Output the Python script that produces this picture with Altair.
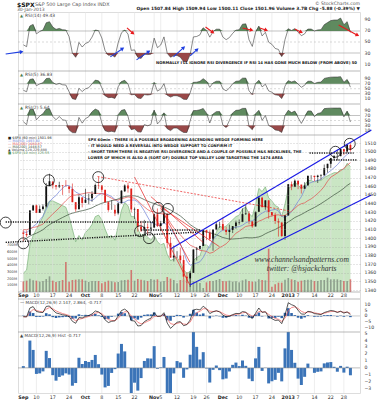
import math
import altair as alt
import pandas as pd
import numpy as np

# ---------------- data ----------------
# closes before the visible window (used only to warm up the indicators)
warmup_close = [1335.0, 1313.7, 1320.0, 1331.9, 1329.0, 1362.2,
                1365.5, 1374.0, 1367.6, 1354.7, 1352.5, 1341.5, 1341.5, 1334.8, 1356.8, 1353.6,
                1363.7, 1372.8, 1376.5, 1362.7, 1350.5, 1338.3, 1337.9, 1360.0, 1386.0, 1385.3, 1379.3,
                1375.1, 1365.0, 1391.0, 1394.2, 1401.4, 1402.2, 1402.8, 1405.9, 1404.1, 1403.9, 1405.5,
                1415.5, 1418.2, 1418.1, 1413.2, 1413.5, 1402.1, 1411.1, 1410.4, 1409.3, 1410.5, 1399.5, 1406.6]

open_ = [1406.5, 1404.9, 1403.7, 1432.1, 1437.9, 1429.1, 1433.6, 1436.6, 1460.1, 1465.4, 1461.2, 1459.5, 1461.0, 1460.3, 1459.8, 1456.9, 1441.6, 1433.4, 1447.1,
         1440.9, 1445.0, 1446.1, 1451.1, 1461.4, 1460.9, 1455.9, 1441.5, 1432.8, 1432.8, 1428.8, 1440.3, 1454.2, 1460.9, 1457.3, 1433.2, 1433.7, 1413.2, 1409.7, 1413.0, 1411.0,
         1412.2, 1427.6, 1414.0, 1417.3, 1428.3, 1394.5, 1377.6, 1380.0, 1380.0, 1374.6, 1355.4, 1353.4, 1359.9, 1386.8, 1387.8, 1391.0, 1409.2, 1406.3, 1398.8, 1410.0, 1416.0,
         1416.3, 1409.5, 1407.1, 1409.4, 1414.0, 1418.1, 1418.6, 1427.8, 1428.5, 1419.5, 1413.5, 1430.5, 1446.8, 1435.8, 1443.7, 1430.2, 1426.7, 1419.8, 1418.1, 1402.4,
         1426.2, 1462.4, 1459.4, 1466.5, 1461.9, 1457.2, 1461.0, 1472.1, 1472.1, 1470.7, 1472.3, 1472.6, 1481.0, 1486.0, 1492.6, 1494.8, 1494.8, 1503.0, 1500.2, 1507.8]
high_ = [1409.3, 1408.8, 1432.1, 1437.9, 1438.7, 1437.8, 1439.2, 1463.8, 1474.5, 1465.6, 1461.5, 1465.2, 1461.2, 1467.1, 1460.7, 1463.2, 1441.6, 1450.2, 1447.1,
         1457.1, 1451.5, 1454.3, 1463.1, 1471.0, 1460.9, 1455.9, 1442.5, 1443.9, 1438.4, 1441.3, 1455.5, 1462.2, 1464.0, 1457.3, 1435.5, 1433.7, 1420.0, 1421.1, 1417.1, 1418.8,
         1428.4, 1434.3, 1419.9, 1433.4, 1428.3, 1401.2, 1391.4, 1384.9, 1388.8, 1380.1, 1360.6, 1362.0, 1386.9, 1389.8, 1391.3, 1409.2, 1409.2, 1409.0, 1410.0, 1419.7, 1418.9,
         1423.7, 1413.1, 1415.6, 1414.0, 1420.3, 1421.6, 1434.3, 1438.6, 1431.4, 1419.5, 1430.7, 1448.0, 1447.8, 1443.7, 1443.7, 1430.2, 1429.4, 1422.8, 1418.1, 1426.7,
         1462.4, 1465.5, 1467.9, 1466.5, 1461.9, 1464.7, 1472.3, 1472.8, 1472.1, 1473.3, 1474.0, 1485.2, 1486.0, 1492.6, 1496.1, 1502.3, 1503.3, 1503.2, 1509.4, 1509.9]
low_ = [1396.6, 1401.3, 1403.7, 1431.4, 1429.0, 1429.1, 1432.0, 1435.3, 1460.1, 1457.5, 1456.1, 1457.9, 1450.0, 1459.5, 1452.1, 1441.6, 1430.5, 1433.4, 1435.6,
        1440.9, 1439.0, 1442.0, 1451.1, 1456.9, 1453.1, 1441.2, 1430.6, 1432.8, 1425.5, 1427.2, 1440.3, 1453.3, 1452.6, 1429.8, 1422.1, 1407.6, 1407.1, 1405.1, 1403.3, 1406.0,
        1412.2, 1412.9, 1408.1, 1417.3, 1388.1, 1377.5, 1373.0, 1377.2, 1370.9, 1352.5, 1348.1, 1343.4, 1359.9, 1374.2, 1386.4, 1391.0, 1397.7, 1397.0, 1385.4, 1409.0, 1411.6,
        1408.5, 1403.7, 1398.2, 1405.9, 1410.9, 1415.6, 1418.6, 1426.8, 1416.0, 1411.9, 1413.5, 1430.5, 1435.8, 1432.8, 1422.6, 1424.7, 1416.4, 1401.8, 1401.6, 1398.1,
        1426.2, 1455.5, 1459.0, 1456.6, 1451.6, 1457.2, 1461.0, 1467.6, 1465.7, 1463.8, 1467.6, 1472.6, 1475.8, 1481.2, 1489.9, 1489.9, 1494.8, 1496.3, 1498.5, 1500.1]
close_ = [1404.9, 1403.4, 1432.1, 1437.9, 1429.1, 1433.6, 1436.6, 1460.0, 1465.8, 1461.2, 1459.3, 1461.1, 1460.3, 1460.2, 1456.9, 1441.6, 1433.3, 1447.2, 1440.7,
          1444.5, 1445.8, 1451.0, 1461.4, 1460.9, 1455.9, 1441.5, 1432.6, 1432.8, 1428.6, 1440.1, 1454.9, 1460.9, 1457.3, 1433.2, 1433.8, 1413.1, 1408.8, 1413.0, 1411.9, 1412.2,
          1427.6, 1414.2, 1417.3, 1428.4, 1394.5, 1377.5, 1380.0, 1380.0, 1374.5, 1355.5, 1353.3, 1359.9, 1386.9, 1387.8, 1391.0, 1409.2, 1406.3, 1398.9, 1409.9, 1416.0, 1416.2,
          1409.5, 1407.1, 1409.3, 1413.9, 1418.1, 1418.6, 1427.8, 1428.5, 1419.5, 1413.6, 1430.4, 1446.8, 1435.8, 1443.7, 1430.2, 1426.7, 1419.8, 1418.1, 1402.4, 1426.2,
          1462.4, 1459.4, 1466.5, 1461.9, 1457.2, 1461.0, 1472.1, 1472.1, 1470.7, 1472.3, 1472.6, 1480.9, 1486.0, 1492.6, 1494.8, 1494.8, 1503.0, 1500.2, 1507.8, 1502.0]
# bar heights (millions)
volume_m = [160, 170, 200, 175, 170, 155, 165, 195, 235, 170, 150, 165, 180, 450, 155, 180, 185, 190, 190,
            170, 150, 165, 165, 165, 130, 150, 170, 160, 145, 150, 175, 180, 185, 330, 170, 195, 185, 175, 165, 195,
            185, 190, 155, 165, 225, 200, 180, 130, 180, 190, 200, 205, 160, 160, 135, 60, 145, 165, 165, 180, 195,
            165, 160, 170, 155, 160, 145, 175, 190, 165, 155, 155, 190, 180, 175, 650, 80, 115, 140, 140, 185,
            210, 190, 180, 155, 170, 180, 185, 185, 165, 165, 180, 180, 215, 190, 190, 190, 180, 165, 165, 190]
breadth = [12, 14, 30, 36, 40, 44, 48, 55, 58, 58, 57, 56, 55, 54, 48, 40, 32, 36, 33,
           38, 40, 43, 48, 49, 46, 40, 35, 36, 33, 42, 52, 57, 55, 48, 48, 40, 36, 37, 35, 33,
           36, 32, 30, 31, 24, 20, 21, 22, 19, 14, 12, 13, 20, 22, 23, 30, 30, 28, 33, 38, 42,
           41, 42, 44, 46, 48, 49, 53, 54, 50, 48, 56, 66, 64, 67, 60, 58, 55, 54, 48, 56,
           66, 67, 70, 68, 66, 68, 71, 71, 70, 71, 71, 73, 74, 75, 76, 76, 78, 78, 82, 80]
vol_ticks = [100, 200, 300, 400, 500, 600, 700]

week_idx = [0, 4, 9, 14, 19, 24, 29, 34, 40, 42, 47, 52, 56, 61, 66, 71, 76, 81, 84, 89, 94, 98]
week_lbl = ['Sep', '10', '17', '24', 'Oct', '8', '15', '22', 'Nov', '5', '12', '19', '26', 'Dec', '10', '17', '24', '2013', '7', '14', '22', '28']
week_bold = [1, 0, 0, 0, 1, 0, 0, 0, 1, 0, 0, 0, 0, 1, 0, 0, 0, 1, 0, 0, 0, 0]

# analyst drawings in data coordinates (trading-day index, price)
seg_kind = ['blue', 'blue', 'reddash', 'red', 'red', 'red', 'red', 'dot', 'dot', 'dot', 'dot', 'dot']
seg_i1 = [45.0, 50.9, 22.7, 34.0, 42.0, 42.0, 39.0, -5.4, -5.4, 36.0, 87.5, 93.4]
seg_p1 = [1387.4, 1345.8, 1471.3, 1470.7, 1434.9, 1436.0, 1448.0, 1395.1, 1418.7, 1409.4, 1498.5, 1490.4]
seg_i2 = [106.4, 106.4, 81.4, 50.9, 50.9, 60.0, 55.0, 53.9, 40.0, 54.0, 101.0, 102.0]
seg_p2 = [1525.1, 1449.9, 1431.4, 1345.8, 1372.4, 1390.0, 1395.0, 1407.1, 1418.7, 1409.4, 1498.5, 1490.4]

circ_i = [-5.4, 0.0, 7.8, 22.9, 41.2, 44.2, 35.7, 38.4, 95.4, 99.8]
circ_p = [1418.0, 1394.0, 1467.0, 1470.6, 1435.0, 1433.8, 1408.0, 1400.0, 1499.9, 1509.1]

arr_kind = ['red', 'red', 'red', 'red', 'red', 'red', 'blue', 'blue', 'blue', 'blue', 'blue']
arr_i1 = [31.7, 55.7, 67.0, 72.3, 83.0, 96.4, -5.4, 26.6, 34.6, 45.9, 51.0]
arr_v1 = [75.5, 77.3, 75.5, 75.5, 73.7, 80.9, 28.3, 22.9, 17.5, 22.9, 24.7]
arr_i2 = [33.4, 57.8, 69.6, 74.1, 84.8, 102.0, -0.7, 30.2, 38.2, 48.9, 53.0]
arr_v2 = [66.4, 68.2, 71.9, 71.9, 68.2, 62.8, 32.0, 37.4, 32.0, 39.2, 35.6]

note_lines = ["SPX 60min - THERE IS A POSSIBLE BROADENING ASCENDING WEDGE FORMING HERE",
              "- IT WOULD NEED A REVERSAL INTO WEDGE SUPPORT TO CONFIRM IT",
              "- SHORT TERM THERE IS NEGATIVE RSI DIVERGENCE AND A COUPLE OF POSSIBLE H&S NECKLINES, THE",
              "LOWER OF WHICH IS ALSO A (SORT OF) DOUBLE TOP VALLEY LOW TARGETING THE 1474 AREA"]
note_p = [1513.5, 1506.6, 1499.6, 1492.7]

legend_lines = ["\u25a0 $SPX (60 min) 1501.96", "\u2014 MA(50) 1493.40", "\u2014 MA(100) 1480.87",
                "\u2014 MA(200) 1448.57", "\u25b2 Volume 228,229,888", "\u25a0 $SPX (10 min) 125.55"]
legend_col = ['#222222', '#6f7fd8', '#e34a4a', '#3b4f3b', '#444444', '#4f8f4f']

# ---------------- indicators ----------------
N = len(close_)
W0 = len(warmup_close)
s = pd.Series(warmup_close + close_, dtype=float)

def rsi(n):
    d = s.diff().fillna(0.0)
    up = d.clip(lower=0).ewm(alpha=1.0 / n, adjust=False).mean()
    dn = (-d.clip(upper=0)).ewm(alpha=1.0 / n, adjust=False).mean()
    return (100 - 100 / (1 + up / dn)).values[W0:]

# daily stand-ins for the hourly indicators of the original chart
ema_f = s.ewm(span=2, adjust=False).mean()
ema_s = s.ewm(span=4, adjust=False).mean()
macd_full = ema_f - ema_s
sig_full = macd_full.ewm(span=3, adjust=False).mean()

df = pd.DataFrame({
    'i': np.arange(N), 'o': open_, 'h': high_, 'l': low_, 'c': close_,
    'vol': volume_m, 'br': breadth,
    'r14': rsi(5), 'r5': rsi(3), 'r2': rsi(2),
    'ma10': s.rolling(7).mean().values[W0:], 'ma20': s.rolling(14).mean().values[W0:],
    'ma50': s.rolling(29).mean().values[W0:],
    'macd': macd_full.values[W0:], 'sig': sig_full.values[W0:],
})
df['hist'] = df['macd'] - df['sig']
df['pc'] = [warmup_close[-1]] + close_[:-1]
df['dn'] = df['c'] < df['pc']
df['z'] = 0.0
df['b70'] = 70.0
df['b30'] = 30.0
for k in ['r14', 'r5', 'r2']:
    df[k + '_hi'] = np.maximum(df[k], 70)
    df[k + '_lo'] = np.minimum(df[k], 30)

wk = pd.DataFrame({'i': week_idx, 'lbl': week_lbl, 'b': week_bold})
segs = pd.DataFrame({'k': seg_kind, 'i1': seg_i1, 'p1': seg_p1, 'i2': seg_i2, 'p2': seg_p2})
circ = pd.DataFrame({'i': circ_i, 'p': circ_p})
arr = pd.DataFrame({'k': arr_kind, 'i1': arr_i1, 'v1': arr_v1, 'i2': arr_i2, 'v2': arr_v2})
vt = pd.DataFrame({'v': vol_ticks, 't': [f'{v}M' for v in vol_ticks]})

# ---------------- layout ----------------
W, H = 342, 381
FONT = 'DejaVu Sans'
GRID = '#e2e2e2'
GREEN = '#4e7d4e'
DRED = '#8e3434'
XS = alt.Scale(domain=[-0.1, 101.4], nice=False, zero=False)
PX_PER_I = W / 101.5

def X(f='i:Q'):
    return alt.X(f, scale=XS, axis=None, title=None)

def YS(dom, rng, clamp=False):
    return alt.Scale(domain=dom, range=rng, nice=False, zero=False, clamp=clamp)

def RAX(vals, grid=False, dash=None, fmt='d'):
    kw = dict(orient='right', values=vals, labelFontSize=4.6, labelColor='#333', labelFont=FONT,
              ticks=False, domain=False, grid=grid, labelPadding=4, title=None, zindex=1, format=fmt)
    if grid:
        kw.update(gridColor='#9a9a9a', gridDash=dash or [1, 2], gridWidth=0.5)
    return alt.Axis(**kw)

one = pd.DataFrame({'a': [0]})

def txt(t, x, y, size=4.6, color='#333', weight='normal', align='left', style='normal', font=FONT):
    return alt.Chart(pd.DataFrame({'t': [t]})).mark_text(
        align=align, baseline='middle', fontSize=size, color=color, fontWeight=weight,
        fontStyle=style, font=font).encode(x=alt.value(x), y=alt.value(y), text='t:N')

def vgrid(top, bot, color=GRID, op=1.0):
    return alt.Chart(wk).mark_rule(color=color, strokeWidth=0.6, opacity=op).encode(
        x=X(), y=alt.value(top), y2=alt.value(bot))

layers = []

# header
layers += [
    txt('$SPX', -1, -7.5, size=6, color='#111', weight='bold'),
    txt('S&P 500 Large Cap Index INDX', 17, -7.5, size=4.8, color='#555'),
    txt('30-Jan-2013', -1, -2.3, size=4.5, color='#555'),
    txt('\u00a9 StockCharts.com', 342, -8, size=4.6, color='#555', align='right'),
    txt('Open 1507.84  High 1509.94  Low 1500.11  Close 1501.96  Volume 3.7B  Chg -5.88 (-0.39%) \u25bc',
        342, -3, size=4.4, color='#222', weight='bold', align='right'),
]

# RSI panels
def rsi_panel(col, dom, rng, label):
    ys = YS(dom, rng, clamp=True)
    top, bot = rng[1], rng[0]
    L = [vgrid(top, bot)]
    L.append(alt.Chart(pd.DataFrame({'lv': [70, 30]})).mark_rule(color='#9a9a9a', strokeWidth=0.6)
             .encode(y=alt.Y('lv:Q', scale=ys, axis=None)))
    L.append(alt.Chart(pd.DataFrame({'lv': [50]})).mark_rule(color='#b5b5b5', strokeWidth=0.5, strokeDash=[2, 2])
             .encode(y=alt.Y('lv:Q', scale=ys, axis=None)))
    L.append(alt.Chart(df).mark_area(color=GREEN, opacity=0.9).encode(
        x=X(), y=alt.Y(col + '_hi:Q', scale=ys, axis=RAX([90, 70, 50, 30, 10])), y2='b70:Q'))
    L.append(alt.Chart(df).mark_area(color=DRED, opacity=0.9).encode(
        x=X(), y=alt.Y(col + '_lo:Q', scale=ys, axis=None), y2='b30:Q'))
    L.append(alt.Chart(df).mark_line(color='#3a3a3a', strokeWidth=0.6).encode(
        x=X(), y=alt.Y(col + ':Q', scale=ys, axis=None)))
    L.append(txt('\u25b2', 2, top + 3.5, size=4, color=GREEN))
    L.append(txt(label, 7, top + 3.5, size=4.4, color='#444'))
    return L

R14_DOM = [-2.7, 104.5]
layers += rsi_panel('r14', R14_DOM, [59, 0], 'RSI(14) 49.43')
layers += rsi_panel('r5', [-12, 122], [92, 59], 'RSI(5) 36.83')
layers += rsi_panel('r2', [-8, 116], [123, 92], 'RSI(2) 5.64')

# RSI arrows
ys14n = YS(R14_DOM, [59, 0])
for kind, colr in [('red', '#e8191c'), ('blue', '#1f3fe0')]:
    sub = arr[arr.k == kind].copy()
    layers.append(alt.Chart(sub).mark_rule(color=colr, strokeWidth=1.1).encode(
        x=X('i1:Q'), x2='i2:Q', y=alt.Y('v1:Q', scale=ys14n, axis=None), y2='v2:Q'))
    ang = []
    for _, r in sub.iterrows():
        dx = (r.i2 - r.i1) * PX_PER_I
        dy = -(r.v2 - r.v1) * 59 / (R14_DOM[1] - R14_DOM[0])
        ang.append(math.degrees(math.atan2(dx, -dy)) % 360)
    sub['ang'] = ang
    layers.append(alt.Chart(sub).mark_point(shape='triangle', filled=True, color=colr, size=18, opacity=1).encode(
        x=X('i2:Q'), y=alt.Y('v2:Q', scale=ys14n, axis=None), angle=alt.Angle('ang:Q', scale=None)))
layers.append(txt("NORMALLY I'LL IGNORE RSI DIVERGENCE IF RSI 14 HAS GONE MUCH BELOW (FROM ABOVE) 50",
                  339, 51, size=3.8, color='#111', weight='bold', align='right'))

# price panel
PT, PB = 123, 280
PY = YS([1337.7, 1519.3], [PB, PT])
layers.append(alt.Chart(df).mark_area(color='#b3dbab', line={'color': '#6aa869', 'strokeWidth': 0.6}).encode(
    x=X(), y=alt.Y('br:Q', scale=YS([0, 100], [PB, PT]), axis=None), y2='z:Q'))
layers.append(vgrid(PT, PB, color='#ffffff', op=0.45))
layers.append(vgrid(PT, PB, color='#cfcfcf', op=0.6))
VS = YS([0, 2355], [PB, PT])
layers.append(alt.Chart(df).mark_bar(size=1.6, opacity=0.8).encode(
    x=X(), y=alt.Y('vol:Q', scale=VS, axis=None), y2='z:Q',
    color=alt.condition('datum.dn', alt.value('#d25b5b'), alt.value('#7d8f7d'))))
layers.append(alt.Chart(vt).mark_text(align='right', baseline='middle', fontSize=3.6, font=FONT, color='#444').encode(
    x=alt.value(-1), y=alt.Y('v:Q', scale=VS, axis=None), text='t:N'))
layers.append(alt.Chart(df).mark_line(color='#6f7fd8', strokeWidth=0.7).encode(
    x=X(), y=alt.Y('ma10:Q', scale=PY, axis=RAX(list(range(1340, 1520, 10)), grid=True))))
layers.append(alt.Chart(df).mark_line(color='#e34a4a', strokeWidth=0.7).encode(
    x=X(), y=alt.Y('ma20:Q', scale=PY, axis=None)))
layers.append(alt.Chart(df).mark_line(color='#3b4f3b', strokeWidth=0.7).encode(
    x=X(), y=alt.Y('ma50:Q', scale=PY, axis=None)))
cc = alt.condition('datum.dn', alt.value('#e0201b'), alt.value('#111111'))
layers.append(alt.Chart(df).mark_rule(strokeWidth=0.6).encode(
    x=X(), y=alt.Y('l:Q', scale=PY, axis=None), y2='h:Q', color=cc))
layers.append(alt.Chart(df).mark_bar(size=1.8).encode(
    x=X(), y=alt.Y('o:Q', scale=PY, axis=None), y2='c:Q', color=cc))

seg_style = {'blue': dict(color='#1a1ae6', strokeWidth=1.2),
             'red': dict(color='#e82020', strokeWidth=0.7),
             'reddash': dict(color='#e82020', strokeWidth=0.7, strokeDash=[2, 1.5]),
             'dot': dict(color='#111111', strokeWidth=1.4, strokeDash=[1.2, 1.2])}
for k, st in seg_style.items():
    layers.append(alt.Chart(segs[segs.k == k]).mark_rule(**st).encode(
        x=X('i1:Q'), x2='i2:Q', y=alt.Y('p1:Q', scale=PY, axis=None), y2='p2:Q'))
layers.append(alt.Chart(circ).mark_point(shape='circle', filled=False, color='#111', size=120, strokeWidth=0.8, opacity=1).encode(
    x=X(), y=alt.Y('p:Q', scale=PY, axis=None)))

notes = pd.DataFrame({'t': note_lines, 'p': note_p, 'i': [19.8] * 4})
layers.append(alt.Chart(notes).mark_text(align='left', baseline='middle', fontSize=3.7, fontWeight='bold', font=FONT, color='#111').encode(
    x=X(), y=alt.Y('p:Q', scale=PY, axis=None), text='t:N'))
wm = pd.DataFrame({'t': ['www.channelsandpatterns.com', 'twitter: @hsjackcharts'], 'p': [1374.5, 1364.0], 'i': [85.1, 85.1]})
layers.append(alt.Chart(wm).mark_text(align='center', baseline='middle', fontSize=7.6, fontStyle='italic', font='Liberation Serif', color='#333').encode(
    x=X(), y=alt.Y('p:Q', scale=PY, axis=None), text='t:N'))
for j, (t, col) in enumerate(zip(legend_lines, legend_col)):
    layers.append(txt(t, -10, PT + 3.3 + j * 2.9, size=3.4, color=col))

# strip labels
def strip(y):
    return [alt.Chart(wk).transform_filter('datum.b == 1').mark_text(fontSize=4.8, fontWeight='bold', font=FONT, color='#222', baseline='middle').encode(
                x=X(), y=alt.value(y), text='lbl:N'),
            alt.Chart(wk).transform_filter('datum.b == 0').mark_text(fontSize=4.8, font=FONT, color='#333', baseline='middle').encode(
                x=X(), y=alt.value(y), text='lbl:N')]
layers += strip(283.7)

# MACD panel
MT, MB = 287, 320
MY = YS([-14.2, 15], [MB, MT], clamp=True)
layers.append(vgrid(MT, MB))
layers.append(alt.Chart(pd.DataFrame({'lv': [0]})).mark_rule(color='#999', strokeWidth=0.5).encode(
    y=alt.Y('lv:Q', scale=MY, axis=None)))
layers.append(alt.Chart(df).mark_bar(size=2.6, color='#2d63a8').encode(
    x=X(), y=alt.Y('hist:Q', scale=MY, axis=RAX([10, 5, 0, -5, -10])), y2='z:Q'))
layers.append(alt.Chart(df).mark_line(color='#ef5a5a', strokeWidth=0.7).encode(
    x=X(), y=alt.Y('sig:Q', scale=MY, axis=None)))
layers.append(alt.Chart(df).mark_line(color='#111', strokeWidth=0.7).encode(
    x=X(), y=alt.Y('macd:Q', scale=MY, axis=None)))
layers.append(txt('\u2014 MACD(12,26,9) 2.147, 2.864, -0.717', 2, MT + 3.5, size=4.2, color='#444'))

# histogram panel
HT, HB = 320, 381
HY = YS([-3.6, 5.15], [HB, HT], clamp=True)
layers.append(vgrid(HT, HB))
layers.append(alt.Chart(df).mark_bar(size=3.0, color='#3b74b8').encode(
    x=X(), y=alt.Y('hist:Q', scale=HY, axis=RAX([5, 4, 3, 2, 1, 0, -1, -2, -3])), y2='z:Q'))
layers.append(alt.Chart(pd.DataFrame({'lv': [0]})).mark_rule(color='#7a7a7a', strokeWidth=0.5).encode(
    y=alt.Y('lv:Q', scale=HY, axis=None)))
layers.append(txt('\u25b2 MACD(12,26,9) Hist -0.717', 2, HT + 3.5, size=4.2, color='#444'))
layers += strip(385.5)

# panel borders
for yb in [59, 92, 123, 280, 287, 320]:
    layers.append(alt.Chart(one).mark_rule(color='#8a8a8a', strokeWidth=0.6).encode(y=alt.value(yb)))

chart = alt.layer(*layers).resolve_scale(y='independent').properties(
    width=W, height=H, autosize=alt.AutoSizeParams(type='none'),
    padding={'left': 18, 'top': 12, 'right': 17, 'bottom': 7}
).configure_view(stroke='#8a8a8a', strokeWidth=0.6).configure(background='white')

chart.save('out.html', embed_options={'renderer': 'svg', 'actions': False})
